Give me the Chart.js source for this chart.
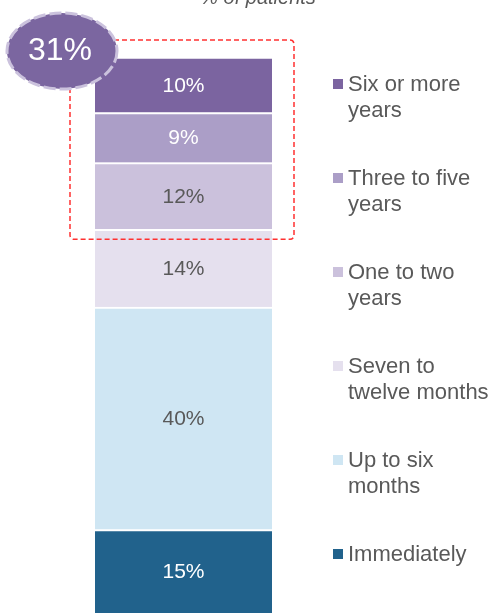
<!DOCTYPE html>
<html>
<head>
<meta charset="utf-8">
<script src="https://cdn.jsdelivr.net/npm/chart.js@4"></script>
<style>
html,body{margin:0;padding:0;background:#fff;}
#wrap{width:492px;height:613px;position:relative;}
</style>
</head>
<body>
<div id="wrap"><canvas id="c" width="492" height="613"></canvas></div>
<script>
// ---- data ----
const categories = ["All patients"];
const seriesNames = ["Immediately", "Up to six\nmonths", "Seven to\ntwelve months", "One to two\nyears", "Three to five\nyears", "Six or more\nyears"];
const seriesValues = [15, 40, 14, 12, 9, 10];
const seriesColors = ["#21628c", "#cfe6f3", "#e5e0ee", "#cbc1dc", "#ab9ec7", "#7b64a0"];
const labelColors = ["#ffffff", "#595959", "#595959", "#595959", "#ffffff", "#ffffff"];
const highlightTotal = "31%";
const highlightFrom = 3; // index of first highlighted series (One to two years)
const titleText = "% of patients";

const FONT = '"Liberation Sans", Arial, sans-serif';

const datasets = seriesNames.map((n, i) => ({
  label: n,
  data: [seriesValues[i]],
  backgroundColor: seriesColors[i],
  borderColor: "#ffffff",
  borderWidth: {top: 2, bottom: 0, left: 0, right: 0},
  borderSkipped: false,
  barPercentage: 1,
  categoryPercentage: 1
}));

const overlay = {
  id: "overlay",
  afterDatasetsDraw(chart) {
    const ctx = chart.ctx;
    const ca = chart.chartArea;
    const y = chart.scales.y;
    ctx.save();
    // segment labels
    chart.data.datasets.forEach((ds, i) => {
      const el = chart.getDatasetMeta(i).data[0];
      const cy = (el.y + el.base) / 2;
      ctx.font = "21px " + FONT;
      ctx.fillStyle = labelColors[i];
      ctx.textAlign = "center";
      ctx.textBaseline = "middle";
      ctx.fillText(ds.data[0] + "%", el.x, cy + 1);
    });
    // title (cropped at top)
    ctx.font = "italic 20px " + FONT;
    ctx.fillStyle = "#595959";
    ctx.textAlign = "center";
    ctx.textBaseline = "alphabetic";
    ctx.fillText(titleText, ca.left + 163, 4);

    // legend
    const lx = ca.right + 61;
    let ly = 84;
    ctx.font = "22px " + FONT;
    ctx.textAlign = "left";
    ctx.textBaseline = "middle";
    for (let i = seriesNames.length - 1; i >= 0; i--) {
      ctx.fillStyle = seriesColors[i];
      ctx.fillRect(lx, ly - 5, 10, 10);
      ctx.fillStyle = "#595959";
      seriesNames[i].split("\n").forEach((t, k) => {
        ctx.fillText(t, lx + 15, ly + 1 + k * 26);
      });
      ly += 94;
    }

    // red dashed box around highlighted segments
    const sumBelow = seriesValues.slice(0, highlightFrom).reduce((a, b) => a + b, 0);
    const total = seriesValues.reduce((a, b) => a + b, 0);
    const top = y.getPixelForValue(total) - 17;
    const bottom = y.getPixelForValue(sumBelow) + 10;
    const left = ca.left - 25;
    const right = ca.right + 22;
    ctx.strokeStyle = "#ff3030";
    ctx.lineWidth = 1.5;
    ctx.setLineDash([5, 3]);
    ctx.beginPath();
    if (ctx.roundRect) ctx.roundRect(left, top, right - left, bottom - top, 4);
    else ctx.rect(left, top, right - left, bottom - top);
    ctx.stroke();

    // ellipse badge
    const ex = ca.left - 33, ey = y.getPixelForValue(total) - 6;
    ctx.setLineDash([]);
    ctx.beginPath();
    ctx.ellipse(ex, ey, 55, 38, 0, 0, Math.PI * 2);
    ctx.fillStyle = "#7b66a0";
    ctx.fill();
    ctx.setLineDash([12, 4]);
    ctx.lineWidth = 3;
    ctx.strokeStyle = "#cbc2dd";
    ctx.stroke();
    ctx.setLineDash([]);
    ctx.font = "32px " + FONT;
    ctx.fillStyle = "#ffffff";
    ctx.textAlign = "center";
    ctx.textBaseline = "middle";
    ctx.fillText(highlightTotal, ex - 2, ey);
    ctx.restore();
  }
};

new Chart(document.getElementById("c"), {
  type: "bar",
  data: { labels: categories, datasets },
  options: {
    responsive: false,
    animation: false,
    layout: { padding: { left: 95, right: 220, top: 57, bottom: 0 } },
    plugins: { legend: { display: false }, tooltip: { enabled: false }, title: { display: false } },
    scales: {
      x: { stacked: true, display: false },
      y: { stacked: true, display: false, min: 0, max: 100 }
    }
  },
  plugins: [overlay]
});
</script>
</body>
</html>
